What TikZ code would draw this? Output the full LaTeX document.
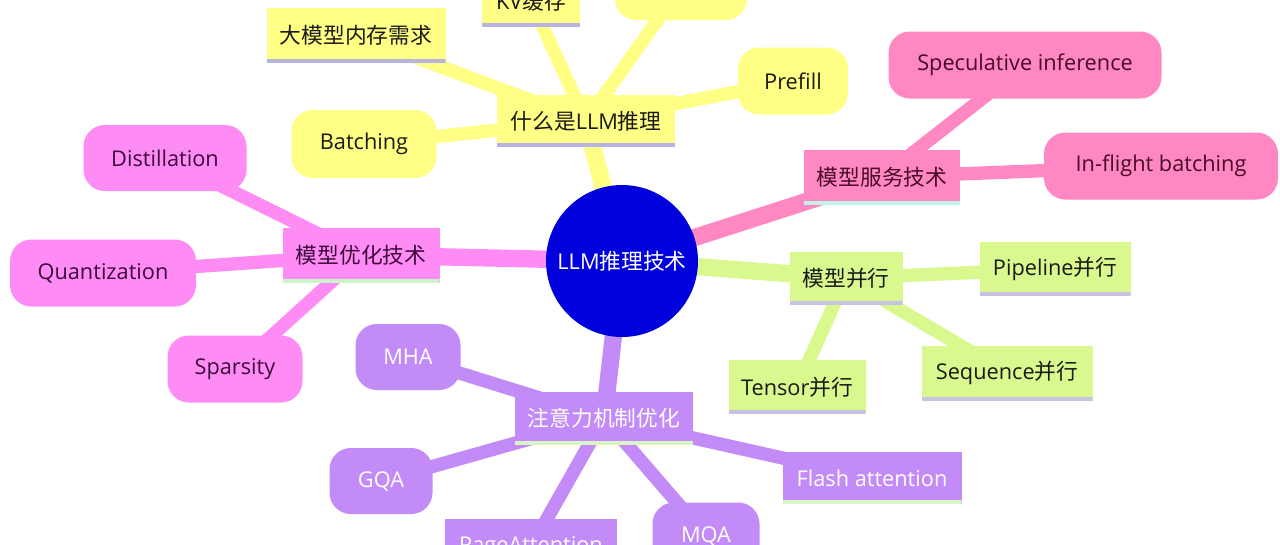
\documentclass[tikz,border=0pt]{standalone}
\usepackage{fontspec}
\setmainfont{Open Sans}
\newfontfamily\cjk{Noto Sans CJK SC}
\usetikzlibrary{backgrounds}
\definecolor{cY}{HTML}{FFFF85}
\definecolor{cM}{HTML}{FF8CF5}
\definecolor{cP}{HTML}{FF88C2}
\definecolor{cG}{HTML}{D9F98E}
\definecolor{cV}{HTML}{C28BF7}
\definecolor{cB}{HTML}{0000DD}
\definecolor{barY}{HTML}{B7B3E3}
\definecolor{barM}{HTML}{C9F5C9}
\definecolor{barP}{HTML}{C5F2E5}
\definecolor{barG}{HTML}{C9C0E6}
\definecolor{barV}{HTML}{D9F5C5}
\definecolor{tDark}{HTML}{1A1A1A}
\definecolor{tM}{HTML}{3C0A3C}
\definecolor{tP}{HTML}{4A0A2A}
\tikzset{
  base/.style={font=\fontsize{16.3}{19}\selectfont, inner sep=0pt, align=center},
  sz/.style 2 args={minimum width=#1*0.75pt, minimum height=#2*0.75pt},
  barbox/.style n args={3}{base, rectangle, fill=#1, text=#2,
    path picture={\fill[#3] ([yshift=3pt]path picture bounding box.south west) rectangle (path picture bounding box.south east);}},
  roundbox/.style 2 args={base, rectangle, rounded corners=16pt, fill=#1, text=#2},
  mainedge/.style={line width=13pt, draw=#1},
  subedge/.style={line width=10pt, draw=#1},
}
\begin{document}
\begin{tikzpicture}[x=0.75pt,y=-0.75pt]
\useasboundingbox (0,0) rectangle (1280,544);
\clip (0,0) rectangle (1280,544);
% centre
\node[base, circle, fill=cB, text=white, minimum size=152*0.75pt] (c) at (622,261) {LLM{\cjk 推理技术}};
% yellow
\node[barbox={cY}{tDark}{barY}, sz={178}{52}] (what) at (586,121) {{\cjk 什么是}LLM{\cjk 推理}};
\node[barbox={cY}{tDark}{barY}, sz={179}{55}] (mem) at (356,35) {\cjk 大模型内存需求};
\node[barbox={cY}{tDark}{barY}, sz={98}{52}] (kv) at (531,1) {KV{\cjk 缓存}};
\node[roundbox={cY}{tDark}, sz={132}{66}] (topy) at (681,-13) {};
\node[roundbox={cY}{tDark}, sz={110}{67}] (prefill) at (793,81) {Prefill};
\node[roundbox={cY}{tDark}, sz={145}{68}] (batch) at (364,144) {Batching};
% magenta
\node[barbox={cM}{tM}{barM}, sz={157}{55}] (opt) at (361,255) {\cjk 模型优化技术};
\node[roundbox={cM}{tM}, sz={163}{66}] (dist) at (165,158) {Distillation};
\node[roundbox={cM}{tM}, sz={186}{67}] (quant) at (103,273) {Quantization};
\node[roundbox={cM}{tM}, sz={135}{67}] (spars) at (235,369) {Sparsity};
% pink
\node[barbox={cP}{tP}{barP}, sz={156}{55}] (serve) at (882,177) {\cjk 模型服务技术};
\node[roundbox={cP}{tP}, sz={273}{67}] (spec) at (1025,65) {Speculative inference};
\node[roundbox={cP}{tP}, sz={234}{67}] (infl) at (1161,166) {In-flight batching};
% green
\node[barbox={cG}{tDark}{barG}, sz={113}{53}] (par) at (846,278) {\cjk 模型并行};
\node[barbox={cG}{tDark}{barG}, sz={151}{54}] (pipe) at (1055,269) {Pipeline{\cjk 并行}};
\node[barbox={cG}{tDark}{barG}, sz={137}{54}] (tens) at (797,387) {Tensor{\cjk 并行}};
\node[barbox={cG}{tDark}{barG}, sz={171}{55}] (seq) at (1007,373) {Sequence{\cjk 并行}};
% purple
\node[barbox={cV}{white}{barV}, sz={178}{53}] (attn) at (604,418) {\cjk 注意力机制优化};
\node[roundbox={cV}{white}, sz={105}{66}] (mha) at (408,357) {MHA};
\node[roundbox={cV}{white}, sz={103}{66}] (gqa) at (381,481) {GQA};
\node[barbox={cV}{white}{barV}, sz={172}{56}] (page) at (531,547) {PageAttention};
\node[roundbox={cV}{white}, sz={107}{67}] (mqa) at (706,536) {MQA};
\node[barbox={cV}{white}{barV}, sz={179}{52}] (flash) at (872,478) {Flash attention};
\begin{scope}[on background layer]
  \draw[mainedge=cY] (c.center) -- (what.center);
  \draw[mainedge=cM] (c.center) -- (opt.center);
  \draw[mainedge=cP] (c.center) -- (serve.center);
  \draw[mainedge=cG] (c.center) -- (par.center);
  \draw[mainedge=cV] (c.center) -- (attn.center);
  \draw[subedge=cY] (what.center) -- (mem.center);
  \draw[subedge=cY] (what.center) -- (kv.center);
  \draw[subedge=cY] (what.center) -- (topy.center);
  \draw[subedge=cY] (what.center) -- (prefill.center);
  \draw[subedge=cY] (what.center) -- (batch.center);
  \draw[subedge=cM] (opt.center) -- (dist.center);
  \draw[subedge=cM] (opt.center) -- (quant.center);
  \draw[subedge=cM] (opt.center) -- (spars.center);
  \draw[subedge=cP] (serve.center) -- (spec.center);
  \draw[subedge=cP] (serve.center) -- (infl.center);
  \draw[subedge=cG] (par.center) -- (pipe.center);
  \draw[subedge=cG] (par.center) -- (tens.center);
  \draw[subedge=cG] (par.center) -- (seq.center);
  \draw[subedge=cV] (attn.center) -- (mha.center);
  \draw[subedge=cV] (attn.center) -- (gqa.center);
  \draw[subedge=cV] (attn.center) -- (page.center);
  \draw[subedge=cV] (attn.center) -- (mqa.center);
  \draw[subedge=cV] (attn.center) -- (flash.center);
\end{scope}
\end{tikzpicture}
\end{document}
